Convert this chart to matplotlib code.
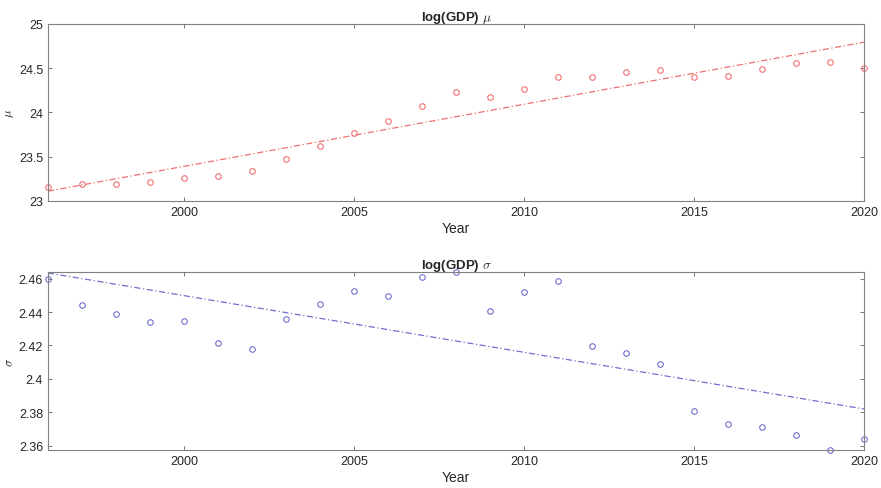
import numpy as np
import matplotlib
matplotlib.use("Agg")
import matplotlib.pyplot as plt
from matplotlib.ticker import FuncFormatter

plt.rcParams['font.family'] = ['Liberation Sans', 'DejaVu Sans']
plt.rcParams['mathtext.fontset'] = 'cm'

years = np.arange(1996, 2021)
mu = [23.158, 23.195, 23.190, 23.218, 23.256, 23.278, 23.338, 23.470, 23.624,
      23.763, 23.900, 24.070, 24.229, 24.173, 24.270, 24.395, 24.406, 24.455,
      24.477, 24.406, 24.414, 24.489, 24.556, 24.571, 24.504]
sigma = [2.4600, 2.4441, 2.4386, 2.4338, 2.4344, 2.4217, 2.4179, 2.4356, 2.4446,
         2.4525, 2.4499, 2.4608, 2.4640, 2.4408, 2.4523, 2.4588, 2.4197, 2.4157,
         2.4090, 2.3808, 2.3731, 2.3713, 2.3665, 2.3574, 2.3642]

red = '#f07070'
blue = '#7070d0'
txt = '#262626'

fig = plt.figure(figsize=(8.81, 4.89), dpi=100)
ax1 = fig.add_axes([0.0545, 0.587, 0.9262, 0.362])
ax2 = fig.add_axes([0.0545, 0.0777, 0.9262, 0.364])


def style(ax):
    ax.tick_params(direction='in', top=True, right=True, labelsize=9,
                   colors='#606060', labelcolor=txt, length=3, width=0.6)
    for s in ax.spines.values():
        s.set_color('#808080')
        s.set_linewidth(0.8)
    ax.set_xlim(1996, 2020)
    ax.set_xticks([2000, 2005, 2010, 2015, 2020])
    ax.set_xlabel('Year', fontsize=10, color=txt, labelpad=2)


for ax, vals, col, name in [(ax1, mu, red, r'\mu'), (ax2, sigma, blue, r'\sigma')]:
    p = np.polyfit(years, vals, 1)
    ax.plot(years, np.polyval(p, years), color=col, lw=0.9, dashes=(5, 2, 1, 2))
    ax.plot(years, vals, 'o', mfc='none', mec=col, ms=4, mew=0.8, clip_on=False)
    style(ax)
    ax.set_title('log(GDP) $' + name + '$', fontsize=9.5, fontweight='bold', color=txt, pad=3)
    ax.set_ylabel('$' + name + '$', fontsize=9, color=txt, labelpad=2)

ax1.set_ylim(23, 25)
ax1.set_yticks([23, 23.5, 24, 24.5, 25])
ax1.yaxis.set_major_formatter(FuncFormatter(lambda v, _: f'{v:g}'))

ax2.set_ylim(min(sigma), max(sigma))
ax2.set_yticks([2.36, 2.38, 2.40, 2.42, 2.44, 2.46])
ax2.yaxis.set_major_formatter(FuncFormatter(lambda v, _: f'{v:g}'))

fig.savefig('out.png', dpi=100)
